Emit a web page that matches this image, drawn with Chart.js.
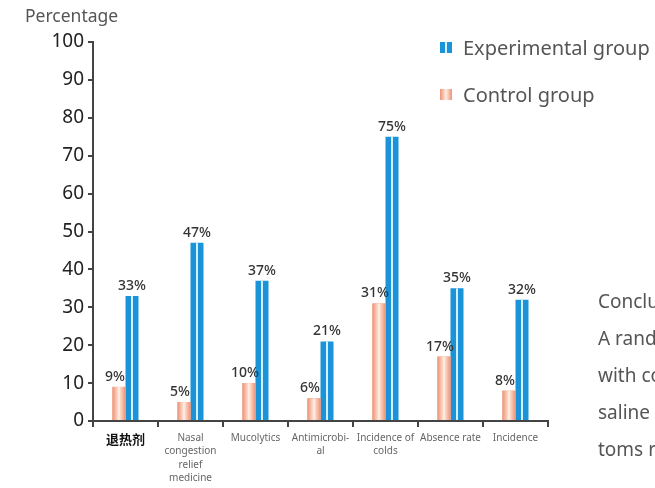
<!DOCTYPE html>
<html>
<head>
<meta charset="utf-8">
<script src="https://cdn.jsdelivr.net/npm/chart.js@4.4.1/dist/chart.umd.min.js"></script>
<style>
  html, body { margin: 0; padding: 0; background: #fff; }
  body { width: 655px; height: 488px; position: relative; overflow: hidden; font-family: "Noto Sans", sans-serif; }
  #wrap { position: absolute; left: 0; top: 0; width: 655px; height: 488px; }
  .ylab { position: absolute; left: 25px; top: 3px; font-size: 17.5px; color: #555; }
  .legend { position: absolute; left: 440px; font-size: 20px; color: #555; line-height: 26px; }
  .legend .mk { display: inline-block; width: 12px; height: 11px; margin-right: 11px; vertical-align: 2px; }
  .note { position: absolute; left: 598px; top: 283px; font-size: 19px; color: #555; line-height: 37px; white-space: nowrap; }
</style>
</head>
<body>
<div id="wrap"><canvas id="c"></canvas></div>
<div class="ylab">Percentage</div>
<div class="legend" style="top:35px"><span class="mk" style="background:linear-gradient(90deg,#1a93d8 0,#1a93d8 45%,#d6f0fb 45%,#d6f0fb 58%,#1a93d8 58%)"></span>Experimental group</div>
<div class="legend" style="top:82px"><span class="mk" style="background:linear-gradient(90deg,#ee9276 0,#fbd9c8 40%,#fff3ec 50%,#fbd9c8 60%,#ee9276 100%)"></span>Control group</div>
<div class="note">Conclusion<br>A randomized<br>with cold<br>saline nasal<br>toms reduced</div>
<script>
// ===== 数据 =====
const categories = [
  ['退热剂'],
  ['Nasal', 'congestion', 'relief', 'medicine'],
  ['Mucolytics'],
  ['Antimicrobi-', 'al'],
  ['Incidence of', 'colds'],
  ['Absence rate'],
  ['Incidence'],
];
const controlValues = [9, 5, 10, 6, 31, 17, 8];
const experimentalValues = [33, 47, 37, 21, 75, 35, 32];
const yTicks = [0, 10, 20, 30, 40, 50, 60, 70, 80, 90, 100];

const BLUE = '#1a93d8';
const ORANGE = '#ee9276';

// 柱子中间的浅色条纹 + 顶部数值
const barDeco = {
  id: 'barDeco',
  afterDatasetsDraw(chart) {
    const ctx = chart.ctx;
    chart.data.datasets.forEach((ds, di) => {
      const meta = chart.getDatasetMeta(di);
      meta.data.forEach((bar, i) => {
        const { x, y, base, width } = bar.getProps(['x', 'y', 'base', 'width'], true);
        const left = x - width / 2;
        ctx.save();
        if (di === 1) {
          ctx.fillStyle = '#d6f0fb';
          ctx.fillRect(x - 1, y, 2, base - y);
        } else {
          const g = ctx.createLinearGradient(left, 0, left + width, 0);
          g.addColorStop(0, '#ee9276');
          g.addColorStop(0.4, '#fbd9c8');
          g.addColorStop(0.5, '#fff3ec');
          g.addColorStop(0.6, '#fbd9c8');
          g.addColorStop(1, '#ee9276');
          ctx.fillStyle = g;
          ctx.fillRect(left, y, width, base - y);
        }
        ctx.fillStyle = '#333';
        ctx.font = '500 14px "Noto Sans", sans-serif';
        ctx.textAlign = 'center';
        ctx.textBaseline = 'bottom';
        ctx.fillText(ds.data[i] + '%', di === 0 ? x - 4 : x, y - 3);
        ctx.restore();
      });
    });
  },
};

new Chart(document.getElementById('c'), {
  type: 'bar',
  data: {
    labels: categories,
    datasets: [
      { label: 'Control group', data: controlValues, backgroundColor: ORANGE },
      { label: 'Experimental group', data: experimentalValues, backgroundColor: BLUE },
    ],
  },
  options: {
    responsive: true,
    maintainAspectRatio: false,
    animation: false,
    layout: { padding: { top: 42, right: 107, left: 0, bottom: 0 } },
    plugins: { legend: { display: false }, tooltip: { enabled: false } },
    datasets: { bar: { categoryPercentage: 0.4, barPercentage: 1.0 } },
    scales: {
      x: {
        afterFit: (s) => { s.height = 67; },
        grid: { drawOnChartArea: false, drawTicks: true, tickLength: 6, color: '#444', lineWidth: 2, offset: true },
        border: { display: true, color: '#444', width: 2 },
        ticks: {
          padding: 4,
          maxRotation: 0,
          autoSkip: false,
          color: (c) => (c.index === 0 ? '#111' : '#666'),
          font: (c) => (c.index === 0
            ? { family: '"Noto Sans CJK SC", sans-serif', size: 13, weight: 'bold', lineHeight: 1.3 }
            : { family: '"Noto Sans", sans-serif', size: 10, lineHeight: 1.35 }),
        },
      },
      y: {
        min: 0,
        max: 100,
        afterFit: (s) => { s.width = 93; },
        afterBuildTicks: (s) => { s.ticks = yTicks.map((v) => ({ value: v })); },
        grid: { drawOnChartArea: false, drawTicks: true, tickLength: 5, color: '#444', lineWidth: 2 },
        border: { display: true, color: '#444', width: 2 },
        ticks: { padding: 4, color: '#222', font: { family: '"Noto Sans", sans-serif', size: 19 } },
      },
    },
  },
  plugins: [barDeco],
});
</script>
</body>
</html>
